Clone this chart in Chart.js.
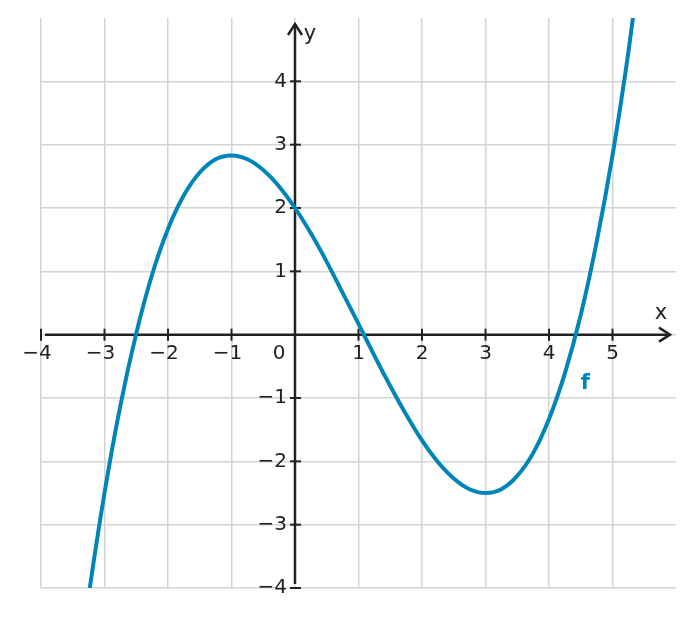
<!DOCTYPE html>
<html>
<head>
<meta charset="utf-8">
<script src="https://cdn.jsdelivr.net/npm/chart.js@4.4.1/dist/chart.umd.min.js"></script>
<style>
  html, body { margin: 0; padding: 0; background: #fff; }
  canvas { display: block; }
</style>
</head>
<body>
<canvas id="graph" width="694" height="617"></canvas>
<script>
const xs = [-3.5, -3.25, -3, -2.75, -2.5, -2.25, -2, -1.75, -1.5, -1.25, -1, -0.75, -0.5, -0.25,
    0, 0.25, 0.5, 0.75, 1, 1.25, 1.5, 1.75, 2, 2.25, 2.5, 2.75, 3, 3.25, 3.5, 3.75,
    4, 4.25, 4.5, 4.75, 5, 5.25, 5.5];
const ys = [-6.02, -4.13, -2.5, -1.12, 0.02, 0.95, 1.67, 2.2, 2.56, 2.77, 2.83, 2.77, 2.6, 2.34,
    2, 1.6, 1.15, 0.66, 0.17, -0.33, -0.81, -1.26, -1.67, -2.01, -2.27, -2.44, -2.5, -2.44, -2.23, -1.87,
    -1.33, -0.61, 0.31, 1.46, 2.83, 4.46, 6.35];

const xTicks = [-4, -3, -2, -1, 1, 2, 3, 4, 5];
const yTicks = [-4, -3, -2, -1, 1, 2, 3, 4];
const curveName = 'f';

const BLUE = '#0085b9';
const AXIS = '#222222';
const GRID = '#d4d4d4';
const FONT = '20px "DejaVu Sans"';

function fmt(v) {
    return v < 0 ? '\u2212' + Math.abs(v) : String(v);
}

function arrowHead(ctx, x, y, dir) {
    // open chevron, dir = 'right' or 'up'
    const l = 11, w = 7;
    ctx.beginPath();
    if (dir === 'right') {
        ctx.moveTo(x - l, y - w);
        ctx.lineTo(x, y);
        ctx.lineTo(x - l, y + w);
    } else {
        ctx.moveTo(x - w, y + l);
        ctx.lineTo(x, y);
        ctx.lineTo(x + w, y + l);
    }
    ctx.stroke();
}

const axesPlugin = {
    id: 'axes',
    beforeDatasetsDraw(chart) {
        const ctx = chart.ctx;
        const sx = chart.scales.x, sy = chart.scales.y;
        const ox = sx.getPixelForValue(0), oy = sy.getPixelForValue(0);
        const a = chart.chartArea;
        ctx.save();
        ctx.strokeStyle = AXIS;
        ctx.lineWidth = 2.5;
        ctx.lineCap = 'butt';
        // x axis
        ctx.beginPath();
        ctx.moveTo(a.left + 4, oy);
        ctx.lineTo(a.right - 6, oy);
        ctx.stroke();
        arrowHead(ctx, a.right - 6, oy, 'right');
        // y axis
        ctx.beginPath();
        ctx.moveTo(ox, a.bottom - 4);
        ctx.lineTo(ox, a.top + 6);
        ctx.stroke();
        arrowHead(ctx, ox, a.top + 6, 'up');
        // tick marks
        ctx.lineWidth = 2;
        xTicks.forEach(v => {
            const px = sx.getPixelForValue(v);
            ctx.beginPath();
            ctx.moveTo(px, oy - 6);
            ctx.lineTo(px, oy + 6);
            ctx.stroke();
        });
        yTicks.forEach(v => {
            const py = sy.getPixelForValue(v);
            ctx.beginPath();
            ctx.moveTo(ox - 5, py);
            ctx.lineTo(ox + 6, py);
            ctx.stroke();
        });
        ctx.restore();
    },
    afterDatasetsDraw(chart) {
        const ctx = chart.ctx;
        const sx = chart.scales.x, sy = chart.scales.y;
        const ox = sx.getPixelForValue(0), oy = sy.getPixelForValue(0);
        const a = chart.chartArea;
        ctx.save();
        ctx.fillStyle = '#222';
        ctx.font = FONT;
        ctx.textBaseline = 'middle';
        ctx.textAlign = 'center';
        xTicks.forEach(v => {
            ctx.fillText(fmt(v), sx.getPixelForValue(v) - (v < 0 ? 4 : 0), oy + 19);
        });
        ctx.fillText('0', ox - 16, oy + 19);
        ctx.textAlign = 'right';
        yTicks.forEach(v => {
            ctx.fillText(fmt(v), ox - 8, sy.getPixelForValue(v));
        });
        ctx.font = '21px "DejaVu Sans"';
        ctx.textAlign = 'center';
        ctx.fillText('x', a.right - 15, oy - 21);
        ctx.fillText('y', ox + 15, a.top + 17);
        ctx.font = 'bold 21px "DejaVu Sans"';
        ctx.fillStyle = BLUE;
        ctx.fillText(curveName, sx.getPixelForValue(4.57), sy.getPixelForValue(-0.77));
        ctx.restore();
    }
};

new Chart(document.getElementById('graph'), {
    type: 'scatter',
    data: {
        datasets: [{
            label: curveName,
            data: xs.map((x, i) => ({ x: x, y: ys[i] })),
            showLine: true,
            borderColor: BLUE,
            borderWidth: 4,
            pointRadius: 0,
            cubicInterpolationMode: 'monotone',
            fill: false
        }]
    },
    options: {
        responsive: false,
        animation: false,
        layout: {
            padding: { left: 41, right: 18, top: 18, bottom: 29 }
        },
        plugins: {
            legend: { display: false },
            tooltip: { enabled: false }
        },
        scales: {
            x: {
                type: 'linear',
                min: -4,
                max: 6,
                ticks: { display: false, stepSize: 1 },
                border: { display: false },
                grid: {
                    drawTicks: false,
                    lineWidth: 1.5,
                    color: c => (c.tick && c.tick.value === 6) ? 'rgba(0,0,0,0)' : GRID
                }
            },
            y: {
                type: 'linear',
                min: -4,
                max: 5,
                ticks: { display: false, stepSize: 1 },
                border: { display: false },
                grid: {
                    drawTicks: false,
                    lineWidth: 1.5,
                    color: c => (c.tick && c.tick.value === 5) ? 'rgba(0,0,0,0)' : GRID
                }
            }
        }
    },
    plugins: [axesPlugin]
});
</script>
</body>
</html>
